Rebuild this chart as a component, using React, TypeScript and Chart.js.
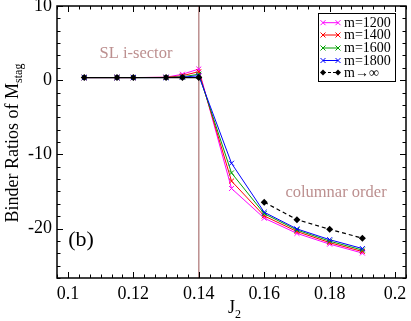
import React, { useEffect, useRef } from "react";
import { Chart, registerables } from "chart.js";

Chart.register(...registerables);

// ---- data ----
const J2 = [0.105, 0.115, 0.12, 0.13, 0.135, 0.14, 0.15, 0.16, 0.17, 0.18, 0.19];
const m1200 = [0.35, 0.35, 0.35, 0.4, 0.8, 1.5, -14.6, -18.6, -20.65, -22.1, -23.3];
const m1400 = [0.35, 0.35, 0.35, 0.38, 0.6, 1.15, -13.6, -18.3, -20.4, -21.9, -23.1];
const m1600 = [0.35, 0.35, 0.35, 0.36, 0.45, 0.8, -12.5, -18.0, -20.2, -21.7, -22.9];
const m1800 = [0.35, 0.35, 0.35, 0.35, 0.4, 0.6, -11.2, -17.8, -20.05, -21.5, -22.7];
const mInf: (number | null)[] = [0.35, 0.35, 0.35, 0.35, 0.35, 0.35, null, -16.45, -18.8, -20.1, -21.3];

const seriesLabels = ["m=1200", "m=1400", "m=1600", "m=1800", "m\u2192\u221e"];
const seriesColors = ["#ff00ff", "#ff0000", "#00a000", "#0000ff", "#000000"];

const xTicks = [0.1, 0.12, 0.14, 0.16, 0.18, 0.2];
const yTicks = [-20, -10, 0, 10];
const X_MIN = 0.1 - 0.02 / 6;
const X_MAX = 0.2 + 0.02 / 6;
const Y_MIN = -20 - 4 * (10 / 6);
const Y_MAX = 10;
const transitionJ2 = 0.14;

const SERIF = "'Liberation Serif', 'Times New Roman', serif";
const ROSY = "#bc8f8f";

const toPts = (ys: (number | null)[]) => J2.map((x, i) => ({ x, y: ys[i] }));

const framePlugin = {
  id: "framePlugin",
  beforeDatasetsDraw(chart: any) {
    const { ctx, chartArea: a, scales } = chart;
    const xv = scales.x.getPixelForValue(transitionJ2);
    ctx.save();
    ctx.strokeStyle = ROSY;
    ctx.lineWidth = 1.5;
    ctx.beginPath();
    ctx.moveTo(xv, a.top);
    ctx.lineTo(xv, a.bottom);
    ctx.stroke();
    ctx.restore();
  },
  afterDraw(chart: any) {
    const { ctx, chartArea: a, scales } = chart;
    const sx = scales.x, sy = scales.y;
    ctx.save();
    // frame
    ctx.strokeStyle = "#000";
    ctx.lineWidth = 1.5;
    ctx.strokeRect(a.left, a.top, a.right - a.left, a.bottom - a.top);
    // ticks
    ctx.lineWidth = 1;
    const maj = 6, min = 3.5;
    ctx.beginPath();
    const xStep = 0.02 / 6;
    for (let k = 0; k <= 32; k++) {
      const v = X_MIN + k * xStep;
      if (v > X_MAX + 1e-9) break;
      const isMaj = xTicks.some((t) => Math.abs(t - v) < 1e-6);
      const L = isMaj ? maj : min;
      const px = Math.round(sx.getPixelForValue(v)) + 0.5;
      ctx.moveTo(px, a.bottom);
      ctx.lineTo(px, a.bottom - L);
      ctx.moveTo(px, a.top);
      ctx.lineTo(px, a.top + L);
    }
    const yStep = 10 / 6;
    for (let k = 0; k <= 30; k++) {
      const v = Y_MIN + k * yStep;
      if (v > Y_MAX + 1e-9) break;
      const isMaj = yTicks.some((t) => Math.abs(t - v) < 1e-6);
      const L = isMaj ? maj : min;
      const py = Math.round(sy.getPixelForValue(v)) + 0.5;
      ctx.moveTo(a.left, py);
      ctx.lineTo(a.left + L, py);
      ctx.moveTo(a.right, py);
      ctx.lineTo(a.right - L, py);
    }
    ctx.stroke();

    // annotations
    ctx.fillStyle = ROSY;
    ctx.font = `16.5px ${SERIF}`;
    ctx.textAlign = "center";
    ctx.textBaseline = "middle";
    ctx.fillText("SL i-sector", 136, 54);
    ctx.fillText("columnar order", 336, 193);
    ctx.fillStyle = "#000";
    ctx.font = `22px ${SERIF}`;
    ctx.fillText("(b)", 81, 240);

    // x title J_2
    ctx.textAlign = "left";
    ctx.textBaseline = "alphabetic";
    ctx.font = `18px ${SERIF}`;
    const jw = ctx.measureText("J").width;
    ctx.fillText("J", 228, 313);
    ctx.font = `12px ${SERIF}`;
    ctx.fillText("2", 228 + jw, 318);

    // y title
    ctx.save();
    ctx.translate(18, 143);
    ctx.rotate(-Math.PI / 2);
    ctx.font = `18px ${SERIF}`;
    const main = "Binder Ratios of M";
    const mw = ctx.measureText(main).width;
    ctx.font = `12px ${SERIF}`;
    const sw = ctx.measureText("stag").width;
    const start = -(mw + sw) / 2;
    ctx.font = `18px ${SERIF}`;
    ctx.fillText(main, start, 0);
    ctx.font = `12px ${SERIF}`;
    ctx.fillText("stag", start + mw, 4);
    ctx.restore();

    // legend
    const lx = 318, ly = 13, lw = 77, lh = 68;
    ctx.fillStyle = "#fff";
    ctx.fillRect(lx, ly, lw, lh);
    ctx.strokeStyle = "#000";
    ctx.lineWidth = 1;
    ctx.strokeRect(lx + 0.5, ly + 0.5, lw, lh);
    const rows = [22.7, 35, 48, 60.5, 72.5];
    seriesLabels.forEach((lab, i) => {
      const y = rows[i];
      const x1 = 323, x2 = 338;
      const c = seriesColors[i];
      ctx.strokeStyle = c;
      ctx.fillStyle = c;
      ctx.lineWidth = 1;
      ctx.beginPath();
      if (i === 4) ctx.setLineDash([3, 2]);
      ctx.moveTo(x1, y);
      ctx.lineTo(x2, y);
      ctx.stroke();
      ctx.setLineDash([]);
      [x1, x2].forEach((px) => {
        ctx.beginPath();
        if (i === 4) {
          const r = 3;
          ctx.moveTo(px, y - r);
          ctx.lineTo(px + r, y);
          ctx.lineTo(px, y + r);
          ctx.lineTo(px - r, y);
          ctx.closePath();
          ctx.fill();
        } else {
          const r = 2.5;
          ctx.moveTo(px - r, y - r);
          ctx.lineTo(px + r, y + r);
          ctx.moveTo(px + r, y - r);
          ctx.lineTo(px - r, y + r);
          ctx.stroke();
        }
      });
      ctx.fillStyle = "#000";
      ctx.font = `14px ${SERIF}`;
      ctx.textAlign = "left";
      ctx.textBaseline = "middle";
      ctx.fillText(lab, 344, y + 0.5);
    });
    ctx.restore();
  },
};

export default function App() {
  const ref = useRef<HTMLCanvasElement | null>(null);
  useEffect(() => {
    document.body.style.margin = "0";
    const canvas = ref.current;
    if (!canvas) return;
    const colored = [m1200, m1400, m1600, m1800].map((ys, i) => ({
      label: seriesLabels[i],
      data: toPts(ys),
      borderColor: seriesColors[i],
      backgroundColor: seriesColors[i],
      borderWidth: 1,
      pointStyle: "crossRot" as const,
      pointRadius: 3.5,
      pointBorderWidth: 1,
      pointBorderColor: seriesColors[i],
      order: 4 - i,
      tension: 0,
    }));
    const black = {
      label: seriesLabels[4],
      data: toPts(mInf),
      borderColor: "#000",
      backgroundColor: "#000",
      borderWidth: 1.2,
      pointStyle: "rectRot" as const,
      pointRadius: 3.5,
      pointBorderWidth: 0,
      pointBackgroundColor: "#000",
      order: 0,
      spanGaps: false,
      segment: {
        borderDash: (c: any) => (c.p0.parsed.x > 0.145 ? [4, 3] : undefined),
      },
    };
    const chart = new Chart(canvas, {
      type: "line",
      data: { datasets: [...colored, black] as any },
      options: {
        responsive: false,
        animation: false,
        devicePixelRatio: 1,
        layout: { padding: { top: 6, right: 3, left: 0, bottom: 0 } },
        plugins: { legend: { display: false }, tooltip: { enabled: false } },
        scales: {
          x: {
            type: "linear",
            min: X_MIN,
            max: X_MAX,
            afterBuildTicks: (s: any) => {
              s.ticks = xTicks.map((v) => ({ value: v }));
            },
            afterFit: (s: any) => {
              s.height = 43;
              s.paddingLeft = 0;
              s.paddingRight = 0;
            },
            grid: { display: false, drawTicks: false },
            border: { display: false },
            ticks: {
              color: "#000",
              font: { family: SERIF, size: 18 },
              padding: 5,
              maxRotation: 0,
              autoSkip: false,
              callback: (v: any) => String(Number(v.toFixed(2))),
            },
          },
          y: {
            type: "linear",
            min: Y_MIN,
            max: Y_MAX,
            afterBuildTicks: (s: any) => {
              s.ticks = yTicks.map((v) => ({ value: v }));
            },
            afterFit: (s: any) => {
              s.width = 57;
              s.paddingTop = 0;
              s.paddingBottom = 0;
            },
            grid: { display: false, drawTicks: false },
            border: { display: false },
            ticks: {
              color: "#000",
              font: { family: SERIF, size: 18 },
              padding: 5,
              autoSkip: false,
              callback: (v: any) => String(v),
            },
          },
        },
      },
      plugins: [framePlugin],
    });
    return () => chart.destroy();
  }, []);
  return (
    <div style={{ width: 411, height: 321 }}>
      <canvas ref={ref} width={411} height={321} />
    </div>
  );
}
